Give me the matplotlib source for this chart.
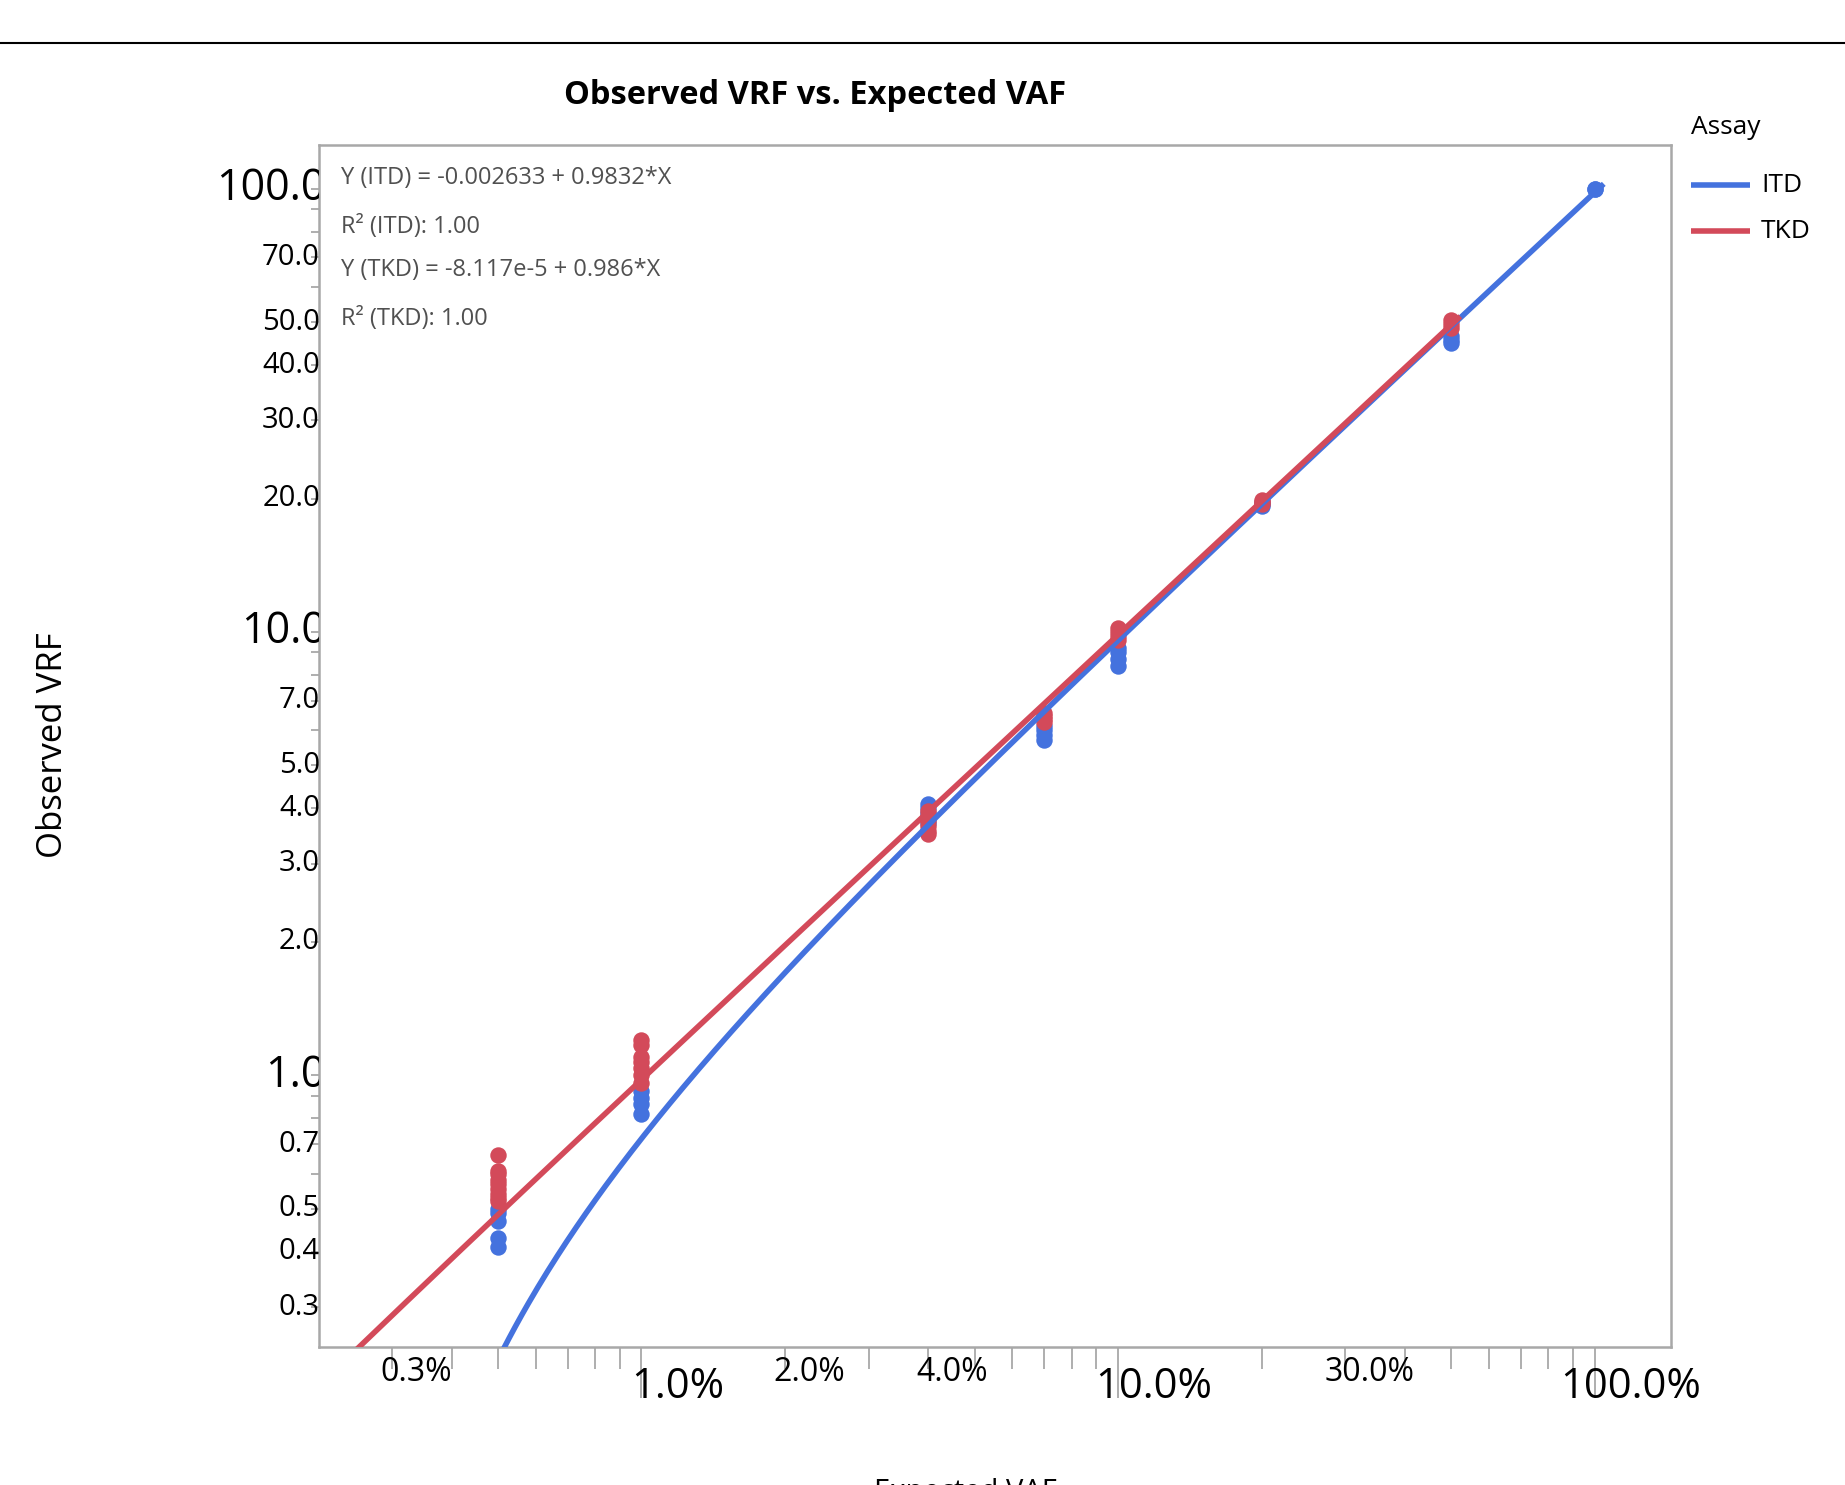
import numpy as np
import matplotlib
matplotlib.use("Agg")
import matplotlib.pyplot as plt
from matplotlib.lines import Line2D
from matplotlib.transforms import Bbox, TransformedBbox, ScaledTranslation, blended_transform_factory

plt.rcParams['font.family'] = ['Open Sans', 'DejaVu Sans']

# expected VAF (%) and observed VRF (%) per assay
itd_x = [0.5, 0.5, 0.5, 0.5, 0.5, 1, 1, 1, 1, 4, 4, 4, 4, 4, 7, 7, 7, 7,
         10, 10, 10, 10, 20, 20, 20, 50, 50, 50, 100, 100]
itd_y = [0.50, 0.49, 0.47, 0.43, 0.41, 0.92, 0.89, 0.86, 0.82,
         4.10, 4.00, 3.90, 3.80, 3.70, 6.15, 6.00, 5.85, 5.70,
         9.2, 9.0, 8.7, 8.4, 19.6, 19.4, 19.2, 46.5, 45.5, 44.8, 100.0, 99.8]
tkd_x = [0.5, 0.5, 0.5, 0.5, 0.5, 0.5, 0.5, 0.5, 0.5, 1, 1, 1, 1, 1, 1, 1,
         4, 4, 4, 4, 4, 4, 7, 7, 7, 7, 10, 10, 10, 10, 20, 20, 20, 50, 50, 50]
tkd_y = [0.66, 0.61, 0.60, 0.58, 0.57, 0.555, 0.54, 0.53, 0.52,
         1.20, 1.17, 1.10, 1.07, 1.04, 1.00, 0.96,
         3.95, 3.85, 3.75, 3.65, 3.55, 3.50, 6.55, 6.45, 6.35, 6.25,
         10.2, 10.0, 9.8, 9.6, 19.8, 19.6, 19.4, 50.5, 49.5, 48.5]

# linear fits (fraction units)
itd_fit = (-0.002633, 0.9832)
tkd_fit = (-8.117e-5, 0.986)
fit_text = ["Y (ITD) = -0.002633 + 0.9832*X", "R\u00b2 (ITD): 1.00",
            "Y (TKD) = -8.117e-5 + 0.986*X", "R\u00b2 (TKD): 1.00"]

assays = ["ITD", "TKD"]
xtick_labels = [0.3, 1, 2, 4, 10, 30, 100]
ytick_labels = [0.3, 0.4, 0.5, 0.7, 1, 2, 3, 4, 5, 7, 10, 20, 30, 40, 50, 70, 100]
big_ticks = [1, 10, 100]

BLUE, RED, GRAY = "#4472DE", "#D34A5A", "#A8A8A8"
W, H = 1845, 1485
L, R, T, B = 319, 1671, 145, 1347

fig = plt.figure(figsize=(W / 100, H / 100), dpi=100)
ax = fig.add_axes([L / W, 1 - B / H, (R - L) / W, (B - T) / H])
ax.set_xscale('log'); ax.set_yscale('log')
xlo, xhi = 0.002106, 1.446
for s in ax.spines.values():
    s.set_color(GRAY); s.set_linewidth(1.8)

minor = [k * 10.0 ** e for e in (-3, -2, -1) for k in range(2, 10)]
ax.set_xticks([0.01, 0.1, 1.0]); ax.set_xticks(minor, minor=True)
ax.set_yticks([0.01, 0.1, 1.0]); ax.set_yticks(minor, minor=True)
ax.set_xlim(xlo, xhi); ax.set_ylim(0.00244, 1.254)
ax.tick_params(axis='x', which='major', length=37, width=1.3, color=GRAY, labelbottom=False)
ax.tick_params(axis='x', which='minor', length=16, width=1.3, color=GRAY, labelbottom=False)
ax.tick_params(axis='y', which='both', length=6, width=1.3, color=GRAY, labelleft=False)

# x tick labels (JMP style: shifted right of the tick)
tx = blended_transform_factory(ax.transData, ax.transAxes)
for v in xtick_labels:
    big = v in big_ticks
    off = ScaledTranslation((0.36 if big else 0.24), 0, fig.dpi_scale_trans)
    ax.text(v / 100, -0.0335 if big else -0.021, f"{v:.1f}%", transform=tx + off,
            ha='center', va='center', fontsize=30 if big else 23, clip_on=False)

# y tick labels, hidden behind the frame on the right like the original
ty = blended_transform_factory(ax.transAxes, ax.transData)
clip = TransformedBbox(Bbox([[0, 0], [L / W, 1]]), fig.transFigure)
for v in ytick_labels:
    big = v in big_ticks
    t = ax.text((42 if big else 25) / (R - L), v / 100, f"{v:.1f}%", transform=ty,
                ha='right', va='center', fontsize=31 if big else 21)
    t.set_clip_on(True); t.set_clip_box(clip)

ax.scatter(np.array(itd_x) / 100, np.array(itd_y) / 100, s=140, color=BLUE, zorder=3, linewidths=0)
ax.scatter(np.array(tkd_x) / 100, np.array(tkd_y) / 100, s=140, color=RED, zorder=3, linewidths=0)

for (a, b), xs, c in [(itd_fit, itd_x, BLUE), (tkd_fit, tkd_x, RED)]:
    xx = np.geomspace(xlo, max(xs) / 100 * 1.045, 400)
    yy = a + b * xx
    yy[yy <= 0] = np.nan
    ax.plot(xx, yy, color=c, lw=4, zorder=4, solid_capstyle='butt')

for txt, yf in zip(fit_text, [0.9728, 0.9317, 0.8964, 0.8553]):
    ax.text(0.0163, yf, txt, transform=ax.transAxes, fontsize=17, color="#505050",
            ha='left', va='center')

# legend, drawn by hand to match JMP spacing
fig.text(1691 / W, 1 - 127 / H, "Assay", ha='left', va='center', fontsize=19)
for name, c, yp in zip(assays, [BLUE, RED], [185, 231]):
    fig.add_artist(Line2D([1691 / W, 1750 / W], [1 - yp / H] * 2, transform=fig.transFigure,
                          color=c, lw=4, solid_capstyle='butt'))
    fig.text(1761 / W, 1 - yp / H, name, ha='left', va='center', fontsize=19)

fig.add_artist(Line2D([0, 1], [1 - 43 / H] * 2, transform=fig.transFigure, color='black', lw=1.5))
fig.text(815 / W, 1 - 95 / H, "Observed VRF vs. Expected VAF", ha='center', va='center',
         fontsize=23.5, fontweight='bold')
fig.text(53 / W, 1 - 745 / H, "Observed VRF", rotation=90, ha='center', va='center', fontsize=25)
fig.text(965 / W, 1 - 1478 / H, "Expected VAF", ha='center', va='top', fontsize=21)

fig.savefig("out.png", dpi=100)
